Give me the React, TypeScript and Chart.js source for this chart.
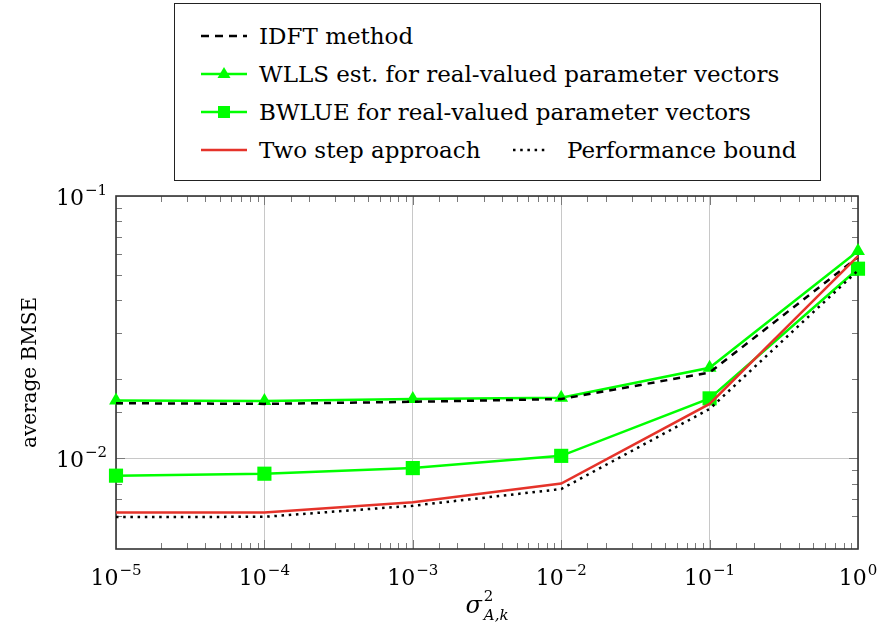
import React, { useEffect, useRef } from 'react';
import { Chart, registerables } from 'chart.js';

Chart.register(...registerables);

// sigma^2_{A,k} sweep (log axis)
const variances = [1e-5, 1e-4, 1e-3, 1e-2, 1e-1, 1];

// average BMSE per estimator
const idftMethod = [0.0162, 0.0161, 0.0164, 0.0168, 0.0212, 0.0585];
const wllsReal = [0.0166, 0.0165, 0.0168, 0.0170, 0.0221, 0.0617];
const bwlueReal = [0.00857, 0.00872, 0.00916, 0.0102, 0.0169, 0.0528];
const twoStep = [0.0062, 0.0062, 0.00678, 0.0080, 0.0161, 0.059];
const perfBound = [0.00596, 0.00597, 0.00658, 0.00762, 0.0154, 0.052];

// decade tick labels, written as 10^e
const xTickExponents = [-5, -4, -3, -2, -1, 0];
const yTickExponents = [-2, -1];

const Y_MIN = 0.0045;
const Y_MAX = 0.1;

const SERIF = "'DejaVu Serif', serif";
const GREEN = '#00ff00';
const RED = '#e5332a';

const isDecade = (v: number) => {
  const l = Math.log10(v);
  return Math.abs(l - Math.round(l)) < 1e-9;
};

const toPoints = (vals: number[]) => variances.map((x, i) => ({ x, y: vals[i] }));

// pgfplots-style frame: box, inward major/minor ticks, decade labels, axis titles
const axisFrame = {
  id: 'axisFrame',
  beforeDatasetsDraw(chart: any) {
    const { ctx, chartArea: a, scales } = chart;
    const xs = scales.x;
    const ys = scales.y;
    ctx.save();
    ctx.strokeStyle = '#7a7a7a';
    ctx.lineWidth = 1;
    ctx.beginPath();
    for (const t of xs.ticks) {
      const v = t.value;
      if (v <= xs.min + 1e-12 || v >= xs.max - 1e-12) continue;
      const px = Math.round(xs.getPixelForValue(v)) + 0.5;
      const len = isDecade(v) ? 9 : 6;
      ctx.moveTo(px, a.bottom);
      ctx.lineTo(px, a.bottom - len);
      ctx.moveTo(px, a.top);
      ctx.lineTo(px, a.top + len);
    }
    for (const t of ys.ticks) {
      const v = t.value;
      if (v <= ys.min + 1e-12 || v >= ys.max - 1e-12) continue;
      const py = Math.round(ys.getPixelForValue(v)) + 0.5;
      const len = isDecade(v) ? 9 : 6;
      ctx.moveTo(a.left, py);
      ctx.lineTo(a.left + len, py);
      ctx.moveTo(a.right, py);
      ctx.lineTo(a.right - len, py);
    }
    ctx.stroke();

    ctx.strokeStyle = '#333333';
    ctx.lineWidth = 1.6;
    ctx.strokeRect(a.left, a.top, a.right - a.left, a.bottom - a.top);
    ctx.restore();
  },
  afterDraw(chart: any) {
    const { ctx, chartArea: a, scales } = chart;
    const xs = scales.x;
    const ys = scales.y;
    ctx.save();
    ctx.fillStyle = '#000';
    ctx.textBaseline = 'alphabetic';

    const drawPow = (cx: number, baseY: number, e: number, align: 'center' | 'right') => {
      const base = '10';
      const sup = e < 0 ? '\u2212' + Math.abs(e) : String(e);
      ctx.font = `22px ${SERIF}`;
      const wb = ctx.measureText(base).width;
      ctx.font = `15px ${SERIF}`;
      const ws = ctx.measureText(sup).width;
      const total = wb + ws + 1;
      const left = align === 'center' ? cx - total / 2 : cx - total;
      ctx.textAlign = 'left';
      ctx.font = `22px ${SERIF}`;
      ctx.fillText(base, left, baseY);
      ctx.font = `15px ${SERIF}`;
      ctx.fillText(sup, left + wb + 1, baseY - 10);
    };

    for (const e of xTickExponents) {
      const px = xs.getPixelForValue(Math.pow(10, e));
      drawPow(px, a.bottom + 36, e, 'center');
    }
    for (const e of yTickExponents) {
      const py = ys.getPixelForValue(Math.pow(10, e));
      drawPow(a.left - 9, py + 9, e, 'right');
    }

    // y-axis title
    ctx.save();
    ctx.translate(36, (a.top + a.bottom) / 2);
    ctx.rotate(-Math.PI / 2);
    ctx.textAlign = 'center';
    ctx.font = `20px ${SERIF}`;
    ctx.fillText('average BMSE', 0, 0);
    ctx.restore();

    // x-axis title: sigma^2_{A,k}
    const cx = (a.left + a.right) / 2;
    const base = a.bottom + 64;
    ctx.textAlign = 'left';
    ctx.font = `italic 24px ${SERIF}`;
    const ws = ctx.measureText('\u03c3').width;
    ctx.font = `italic 15px ${SERIF}`;
    const wsub = ctx.measureText('A,k').width;
    const left = cx - (ws + wsub + 2) / 2;
    ctx.font = `italic 24px ${SERIF}`;
    ctx.fillText('\u03c3', left, base);
    ctx.font = `15px ${SERIF}`;
    ctx.fillText('2', left + ws + 2, base - 12);
    ctx.font = `italic 15px ${SERIF}`;
    ctx.fillText('A,k', left + ws + 2, base + 7);
    ctx.restore();
  },
};

type LegendItem = { label: string; kind: 'dash' | 'tri' | 'sq' | 'red' | 'dot' };
const legendRows: LegendItem[][] = [
  [{ label: 'IDFT method', kind: 'dash' }],
  [{ label: 'WLLS est. for real-valued parameter vectors', kind: 'tri' }],
  [{ label: 'BWLUE for real-valued parameter vectors', kind: 'sq' }],
  [
    { label: 'Two step approach', kind: 'red' },
    { label: 'Performance bound', kind: 'dot' },
  ],
];

function Sample({ kind }: { kind: LegendItem['kind'] }) {
  const w = 46;
  const h = 18;
  const m = h / 2;
  if (kind === 'dash')
    return (
      <svg width={w} height={h}>
        <line x1={0} y1={m} x2={w} y2={m} stroke="#000" strokeWidth={2.5} strokeDasharray="8 6" />
      </svg>
    );
  if (kind === 'dot')
    return (
      <svg width={36} height={h}>
        <line x1={0} y1={m} x2={36} y2={m} stroke="#000" strokeWidth={2.5} strokeDasharray="2.5 4.7" />
      </svg>
    );
  if (kind === 'red')
    return (
      <svg width={w} height={h}>
        <line x1={0} y1={m} x2={w} y2={m} stroke={RED} strokeWidth={2.5} />
      </svg>
    );
  return (
    <svg width={w} height={h}>
      <line x1={0} y1={m} x2={w} y2={m} stroke={GREEN} strokeWidth={2.5} />
      {kind === 'tri' ? (
        <polygon points={`${w / 2},${m - 7} ${w / 2 - 6.5},${m + 4} ${w / 2 + 6.5},${m + 4}`} fill={GREEN} />
      ) : (
        <rect x={w / 2 - 6} y={m - 6} width={12} height={12} fill={GREEN} />
      )}
    </svg>
  );
}

export default function App() {
  const canvasRef = useRef<HTMLCanvasElement | null>(null);

  useEffect(() => {
    if (!canvasRef.current) return;
    const line = (label: string, vals: number[], extra: any) => ({
      label,
      data: toPoints(vals),
      borderWidth: 2.5,
      pointRadius: 0,
      pointHoverRadius: 0,
      tension: 0,
      clip: false,
      ...extra,
    });
    const chart = new Chart(canvasRef.current, {
      type: 'line',
      data: {
        datasets: [
          line('Performance bound', perfBound, {
            borderColor: '#000',
            borderDash: [2.5, 4.7],
            borderCapStyle: 'butt',
          }),
          line('Two step approach', twoStep, { borderColor: RED }),
          line('IDFT method', idftMethod, { borderColor: '#000', borderDash: [7, 6] }),
          line('BWLUE for real-valued parameter vectors', bwlueReal, {
            borderColor: GREEN,
            pointStyle: 'rect',
            pointRadius: 10,
            pointBackgroundColor: GREEN,
            pointBorderColor: GREEN,
            pointBorderWidth: 0,
          }),
          line('WLLS est. for real-valued parameter vectors', wllsReal, {
            borderColor: GREEN,
            pointStyle: 'triangle',
            pointRadius: 8,
            pointBackgroundColor: GREEN,
            pointBorderColor: GREEN,
            pointBorderWidth: 0,
          }),
        ],
      },
      options: {
        animation: false,
        responsive: true,
        maintainAspectRatio: false,
        layout: { padding: { left: 116, top: 196, right: 19, bottom: 85 } },
        plugins: { legend: { display: false }, tooltip: { enabled: false } },
        events: [],
        scales: {
          x: {
            type: 'logarithmic',
            min: 1e-5,
            max: 1,
            ticks: { display: false },
            border: { display: false },
            grid: {
              drawTicks: false,
              lineWidth: 1,
              color: (c: any) => (c.tick && isDecade(c.tick.value) ? '#c8c8c8' : 'rgba(0,0,0,0)'),
            },
          },
          y: {
            type: 'logarithmic',
            min: Y_MIN,
            max: Y_MAX,
            ticks: { display: false },
            border: { display: false },
            grid: {
              drawTicks: false,
              lineWidth: 1,
              color: (c: any) => (c.tick && isDecade(c.tick.value) ? '#c8c8c8' : 'rgba(0,0,0,0)'),
            },
          },
        },
      },
      plugins: [axisFrame],
    });
    return () => chart.destroy();
  }, []);

  return (
    <div style={{ position: 'absolute', left: 0, top: 0, width: 877, height: 634, background: '#fff' }}>
      <canvas ref={canvasRef} />
      <div
        style={{
          position: 'absolute',
          left: 174,
          top: 3,
          width: 647,
          height: 178,
          border: '1.5px solid #222',
          boxSizing: 'border-box',
          background: '#fff',
          fontFamily: SERIF,
          fontSize: 23,
          color: '#000',
        }}
      >
        {legendRows.map((row, ri) => (
          <div key={ri} style={{ position: 'absolute', top: 32 + ri * 38 - 15, left: 0, height: 30, whiteSpace: 'nowrap' }}>
            {row.map((it, ii) => {
              const sampleLeft = ii === 0 ? 26 : 338;
              const textLeft = ii === 0 ? 84 : 392;
              return (
                <React.Fragment key={ii}>
                  <div style={{ position: 'absolute', left: sampleLeft, top: 6, lineHeight: 0 }}>
                    <Sample kind={it.kind} />
                  </div>
                  <div style={{ position: 'absolute', left: textLeft, top: 0, lineHeight: '30px' }}>{it.label}</div>
                </React.Fragment>
              );
            })}
          </div>
        ))}
      </div>
    </div>
  );
}
